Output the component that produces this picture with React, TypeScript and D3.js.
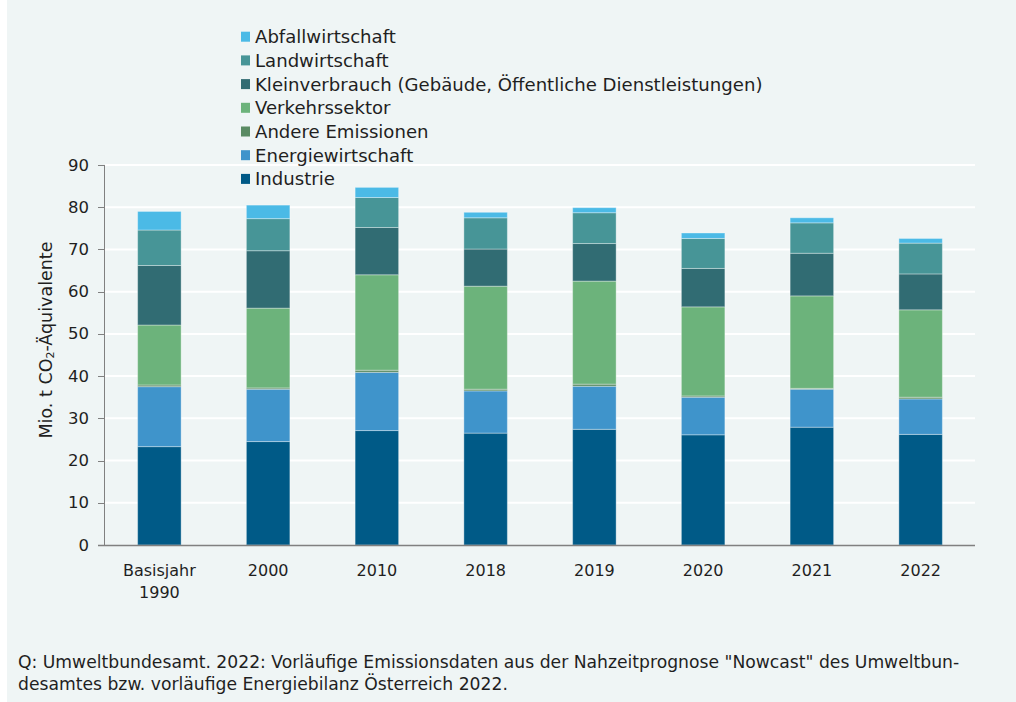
import React from "react";
import * as d3 from "d3";

const categories = ["Basisjahr 1990", "2000", "2010", "2018", "2019", "2020", "2021", "2022"];
const categoryLines = [["Basisjahr", "1990"], ["2000"], ["2010"], ["2018"], ["2019"], ["2020"], ["2021"], ["2022"]];

const industrie = [23.3, 24.5, 27.1, 26.5, 27.4, 26.1, 27.9, 26.2];
const energiewirtschaft = [14.2, 12.4, 13.8, 10.0, 10.2, 8.9, 9.0, 8.4];
const andereEmissionen = [0.4, 0.3, 0.5, 0.4, 0.5, 0.3, 0.2, 0.4];
const verkehrssektor = [14.2, 18.9, 22.6, 24.4, 24.4, 21.1, 21.9, 20.7];
const kleinverbrauch = [14.1, 13.6, 11.2, 8.8, 8.9, 9.1, 10.1, 8.5];
const landwirtschaft = [8.4, 7.6, 7.1, 7.4, 7.3, 7.1, 7.2, 7.3];
const abfallwirtschaft = [4.4, 3.2, 2.4, 1.3, 1.2, 1.3, 1.2, 1.1];

const seriesNames = [
  "Industrie",
  "Energiewirtschaft",
  "Andere Emissionen",
  "Verkehrssektor",
  "Kleinverbrauch (Gebäude, Öffentliche Dienstleistungen)",
  "Landwirtschaft",
  "Abfallwirtschaft",
];
const seriesValues = [industrie, energiewirtschaft, andereEmissionen, verkehrssektor, kleinverbrauch, landwirtschaft, abfallwirtschaft];
const seriesColors = ["#005a87", "#3f94cb", "#5a8b63", "#6cb37b", "#316c73", "#479597", "#4bbae6"];

const yTicks = [0, 10, 20, 30, 40, 50, 60, 70, 80, 90];

const sourceLines = [
  'Q: Umweltbundesamt. 2022: Vorläufige Emissionsdaten aus der Nahzeitprognose "Nowcast" des Umweltbun-',
  "desamtes bzw. vorläufige Energiebilanz Österreich 2022.",
];

const FONT = "'DejaVu Sans', sans-serif";
const TEXT = "#1f1f1f";

export default function App() {
  const W = 1016;
  const H = 702;
  const left = 105;
  const right = 975;
  const top = 165;
  const bottom = 545;

  const x = d3.scaleBand<string>().domain(categories).range([left, right]).paddingInner(0.6).paddingOuter(0.3);
  const y = d3.scaleLinear().domain([0, 90]).range([bottom, top]);

  const table = categories.map((c, i) => {
    const row: Record<string, any> = { cat: c };
    seriesNames.forEach((s, j) => (row[s] = seriesValues[j][i]));
    return row;
  });
  const stacked = d3.stack<any>().keys(seriesNames)(table);

  const legendOrder = seriesNames.map((_, i) => i).reverse();

  return (
    <svg width={W} height={H} style={{ position: "absolute", left: 0, top: 0 }} fontFamily={FONT}>
      <rect x={7} y={0} width={W - 7} height={H} fill="#eff5f5" />

      {yTicks.filter((t) => t > 0).map((t) => (
        <line key={t} x1={left} x2={right} y1={y(t)} y2={y(t)} stroke="#ffffff" strokeWidth={2} />
      ))}

      {stacked.map((layer, si) => (
        <g key={si} fill={seriesColors[si]}>
          {layer.map((d, ci) => (
            <rect
              key={ci}
              x={x(categories[ci])}
              y={y(d[1])}
              width={x.bandwidth()}
              height={y(d[0]) - y(d[1])}
              stroke="#ffffff"
              strokeOpacity={0.35}
              strokeWidth={1}
            />
          ))}
        </g>
      ))}

      <line x1={left - 0.5} x2={left - 0.5} y1={top} y2={bottom} stroke="#808080" strokeWidth={1} />
      {yTicks.map((t) => (
        <g key={t}>
          <line x1={left - 7} x2={left} y1={Math.round(y(t)) + 0.5} y2={Math.round(y(t)) + 0.5} stroke="#808080" />
          <text x={89} y={y(t)} textAnchor="end" dominantBaseline="central" fontSize={16.5} fill={TEXT}>
            {t}
          </text>
        </g>
      ))}
      <line x1={left - 7} x2={right} y1={bottom + 0.5} y2={bottom + 0.5} stroke="#808080" strokeWidth={1.5} />
      {categories.map((c, i) => (
        <text key={c} x={(x(c) as number) + x.bandwidth() / 2} textAnchor="middle" fontSize={16} fill={TEXT}>
          {categoryLines[i].map((l, k) => (
            <tspan key={k} x={(x(c) as number) + x.bandwidth() / 2} y={570 + k * 22} dominantBaseline="central">
              {l}
            </tspan>
          ))}
        </text>
      ))}

      <text transform={`translate(46,340) rotate(-90)`} textAnchor="middle" dominantBaseline="central" fontSize={17.5} fill={TEXT}>
        Mio. t CO<tspan fontSize={11} dy={4}>2</tspan>
        <tspan dy={-4}>-Äquivalente</tspan>
      </text>

      {legendOrder.map((si, k) => {
        const cy = 36.7 + k * 23.7;
        return (
          <g key={si}>
            <rect x={241} y={cy - 5} width={9} height={10} fill={seriesColors[si]} />
            <text x={255} y={cy} dominantBaseline="central" fontSize={18.1} fill={TEXT}>
              {seriesNames[si]}
            </text>
          </g>
        );
      })}

      {sourceLines.map((l, k) => (
        <text key={k} x={18} y={662 + k * 22} dominantBaseline="central" fontSize={17.2} fill={TEXT}>
          {l}
        </text>
      ))}
    </svg>
  );
}
